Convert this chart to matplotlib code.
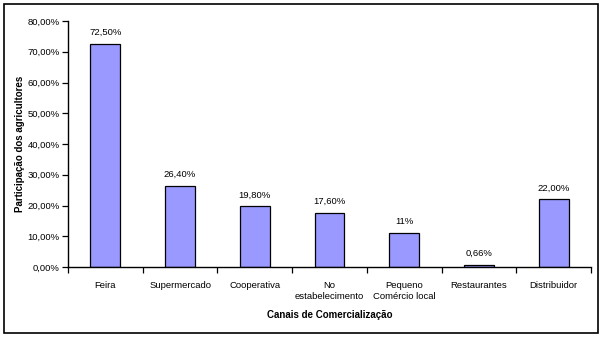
import matplotlib.pyplot as plt
from matplotlib.patches import Rectangle

canais = ['Feira', 'Supermercado', 'Cooperativa', 'No\nestabelecimento',
          'Pequeno\nComércio local', 'Restaurantes', 'Distribuidor']
valores = [72.5, 26.4, 19.8, 17.6, 11.0, 0.66, 22.0]
rotulos = ['72,50%', '26,40%', '19,80%', '17,60%', '11%', '0,66%', '22,00%']
yticks = [0, 10, 20, 30, 40, 50, 60, 70, 80]

plt.rcParams['font.family'] = ['Liberation Sans', 'DejaVu Sans']

W, H = 602, 338
fig = plt.figure(figsize=(W / 100, H / 100), dpi=100)
ax = fig.add_axes([68 / W, 1 - 267 / H, (591 - 68) / W, (267 - 21) / H])

# moldura externa
fig.patches.append(Rectangle((4 / W, 1 - 333 / H), 594 / W, 329 / H,
                             transform=fig.transFigure, fill=False,
                             edgecolor='black', linewidth=1.2))

x = list(range(len(canais)))
ax.bar(x, valores, width=0.4, color='#9999ff', edgecolor='black', linewidth=0.9)
for xi, v, r in zip(x, valores, rotulos):
    ax.text(xi, v + 2.2, r, ha='center', va='bottom', fontsize=6.8)

ax.set_xlim(-0.5, len(canais) - 0.5)
ax.set_ylim(0, 80)
ax.set_yticks(yticks)
ax.set_yticklabels([f'{t},00%' for t in yticks], fontsize=6.8)
ax.set_xticks(x)
ax.set_xticklabels(canais, fontsize=6.8, va='top', linespacing=1.35)
ax.set_xticks([i - 0.5 for i in range(len(canais) + 1)], minor=True)
ax.tick_params(axis='x', which='major', length=0, pad=10)
ax.tick_params(axis='x', which='minor', length=4, width=0.9, direction='out')
ax.tick_params(axis='y', length=4, width=0.9, direction='out', pad=2)

for s in ['top', 'right']:
    ax.spines[s].set_visible(False)
for s in ['left', 'bottom']:
    ax.spines[s].set_linewidth(1.0)

ax.set_xlabel('Canais de Comercialização', fontsize=7, fontweight='bold', labelpad=6)
ax.set_ylabel('Participação dos agricultores', fontsize=7, fontweight='bold', labelpad=2)

fig.savefig('out.png', dpi=100)
